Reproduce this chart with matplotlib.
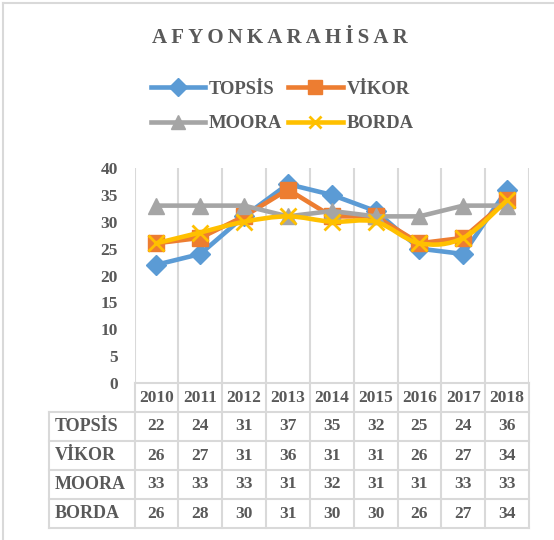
import numpy as np
import matplotlib.pyplot as plt
from matplotlib.path import Path
from matplotlib.patches import PathPatch
from matplotlib.lines import Line2D

years = ["2010", "2011", "2012", "2013", "2014", "2015", "2016", "2017", "2018"]
topsis = [22, 24, 31, 37, 35, 32, 25, 24, 36]
vikor = [26, 27, 31, 36, 31, 31, 26, 27, 34]
moora = [33, 33, 33, 31, 32, 31, 31, 33, 33]
borda = [26, 28, 30, 31, 30, 30, 26, 27, 34]
names = ["TOPSİS", "VİKOR", "MOORA", "BORDA"]

W, H = 554, 540
txt = "#595959"
grid = "#d9d9d9"
plt.rcParams["font.family"] = ["Liberation Serif", "DejaVu Serif"]
plt.rcParams["font.weight"] = "bold"

fig = plt.figure(figsize=(W / 100, H / 100), dpi=100)

def box(l, t, r, b):
    return [l / W, 1 - b / H, (r - l) / W, (b - t) / H]

# outer border (top and left only visible)
fig.add_artist(Line2D([3 / W, 3 / W], [0, 1 - 3 / H], color=grid, lw=1.5))
fig.add_artist(Line2D([3 / W, 1], [1 - 3 / H, 1 - 3 / H], color=grid, lw=1.5))

PL, PR, PT, PB = 134.5, 529, 168, 383
ax = fig.add_axes(box(PL, PT, PR, PB))
x = np.arange(len(years))
ax.set_xlim(-0.5, 8.5)
ax.set_ylim(0, 40)
for xv in np.arange(-0.5, 9, 1):
    ax.axvline(xv, color=grid, lw=1.5, zorder=0)
for s in ["top", "right", "left"]:
    ax.spines[s].set_visible(False)
ax.spines["bottom"].set_color(grid)
ax.spines["bottom"].set_linewidth(1.5)
ax.set_xticks([])
ax.set_yticks(range(0, 41, 5))
ax.tick_params(axis="y", length=0, pad=12, labelsize=12.5, labelcolor=txt)
for t in ax.get_yticklabels():
    t.set_fontweight("bold")

lw = 3.3
ax.plot(x, topsis, color="#5B9BD5", lw=lw, marker="D", ms=10, label=names[0])
ax.plot(x, vikor, color="#ED7D31", lw=lw, marker="s", ms=12, label=names[1])
ax.plot(x, moora, color="#A5A5A5", lw=lw, marker="^", ms=12, label=names[2])

# BORDA drawn as a smoothed line (Excel style)
bx = np.array(x, float)
by = np.array(borda, float)
verts = [(bx[0], by[0])]
codes = [Path.MOVETO]
for i in range(len(bx) - 1):
    p0 = i - 1 if i > 0 else i
    p3 = i + 2 if i + 2 < len(bx) else i + 1
    c1 = (bx[i] + (bx[i + 1] - bx[p0]) / 6, by[i] + (by[i + 1] - by[p0]) / 6)
    c2 = (bx[i + 1] - (bx[p3] - bx[i]) / 6, by[i + 1] - (by[p3] - by[i]) / 6)
    verts += [c1, c2, (bx[i + 1], by[i + 1])]
    codes += [Path.CURVE4] * 3
ax.add_patch(PathPatch(Path(verts, codes), fill=False, edgecolor="#FFC000", lw=lw,
                       capstyle="round", zorder=3))
ax.plot(x, borda, ls="none", color="#FFC000", marker="x", ms=11, mew=2, zorder=3)

# legend (row-major order like Excel)
h = {
    "TOPSİS": Line2D([], [], color="#5B9BD5", lw=lw, marker="D", ms=9),
    "VİKOR": Line2D([], [], color="#ED7D31", lw=lw, marker="s", ms=10),
    "MOORA": Line2D([], [], color="#A5A5A5", lw=lw, marker="^", ms=10),
    "BORDA": Line2D([], [], color="#FFC000", lw=lw, marker="x", ms=8, mew=2),
}
order = ["TOPSİS", "MOORA", "VİKOR", "BORDA"]
leg = fig.legend([h[n] for n in order], order, loc="center",
                 bbox_to_anchor=(282 / W, 1 - 106.5 / H),
                 ncol=2, frameon=False, handlelength=2.93, handletextpad=0.2,
                 columnspacing=0.32, labelspacing=0.95,
                 prop={"size": 13.4, "weight": "bold"})
for t in leg.get_texts():
    t.set_color(txt)

# title (letter-spaced)
fig.text(280 / W, 1 - 38 / H, "\u2009".join("AFYONKARAHİSAR"), ha="center", va="center",
         fontsize=15, fontweight="bold", color=txt)

# data table
TL, TB = 49, 528
tax = fig.add_axes(box(TL, PB, PR, TB))
unit = (PR - PL) / 9
left = -0.5 - (PL - TL) / unit
tax.set_xlim(left, 8.5)
tax.set_ylim(TB, PB)
tax.axis("off")
rows = [PB, 412, 441, 470, 499, TB]
kw = dict(color=grid, lw=1.5, clip_on=False)
for r in rows[1:]:
    tax.plot([left, 8.5], [r, r], **kw)
for xv in np.arange(-0.5, 9, 1):
    tax.plot([xv, xv], [rows[0], rows[-1]], **kw)
tax.plot([left, left], [rows[1], rows[-1]], **kw)
fs = 12.5
for i, yr in enumerate(years):
    tax.text(i, (rows[0] + rows[1]) / 2 + 1, yr, ha="center", va="center",
             fontsize=fs, fontweight="bold", color=txt)
for j, (name, vals) in enumerate(zip(names, [topsis, vikor, moora, borda])):
    yc = (rows[j + 1] + rows[j + 2]) / 2
    tax.text(left + 0.14, yc, name, ha="left", va="center",
             fontsize=13, fontweight="bold", color=txt)
    for i, v in enumerate(vals):
        tax.text(i, yc, str(v), ha="center", va="center",
                 fontsize=fs, fontweight="bold", color=txt)

fig.savefig("out.png", dpi=100)
